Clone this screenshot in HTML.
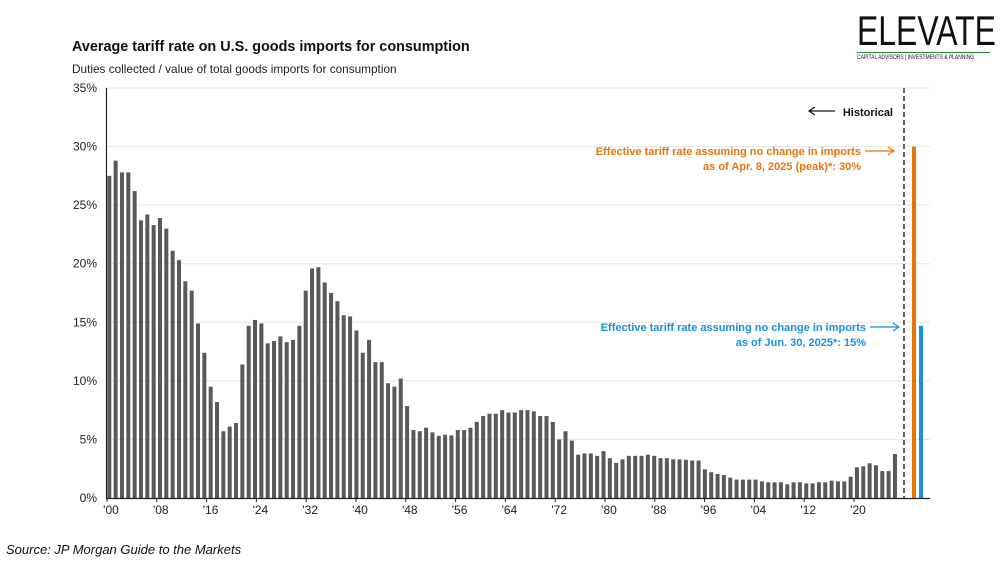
<!DOCTYPE html>
<html><head><meta charset="utf-8"><style>
body{margin:0;width:1000px;height:561px;background:#fff;font-family:"Liberation Sans",sans-serif;overflow:hidden;position:relative}
.t{position:absolute;white-space:nowrap}
</style></head><body>
<div class="t" style="left:72px;top:39px;font-size:14.4px;font-weight:bold;color:#111">Average tariff rate on U.S. goods imports for consumption</div>
<div class="t" style="left:72px;top:62px;font-size:11.8px;color:#222">Duties collected / value of total goods imports for consumption</div>
<div style="position:absolute;left:857px;top:10px;width:135px">
<div style="font-size:42px;color:#111;line-height:42px;white-space:nowrap;transform:scaleX(0.76);transform-origin:left top">ELEVATE</div>
<div style="font-size:6.5px;color:#111;border-top:1px solid #2a8a3a;padding-top:1px;white-space:nowrap;width:175px;transform:scaleX(0.76);transform-origin:left top">CAPITAL ADVISORS | INVESTMENTS &amp; PLANNING</div>
</div>
<div class="t" style="left:6px;top:542px;font-size:13px;font-style:italic;color:#111">Source: JP Morgan Guide to the Markets</div>
<svg id="c" width="1000" height="561" style="position:absolute;left:0;top:0"></svg>
<script>
const years=[];for(let y=1900;y<=2024;y++)years.push(y);
const rates=[27.5,28.8,27.8,27.8,26.2,23.7,24.2,23.3,23.9,23.0,21.1,20.3,18.5,17.7,14.9,12.4,9.5,8.2,5.7,6.1,6.4,11.4,14.7,15.2,14.9,13.2,13.4,13.8,13.3,13.5,14.7,17.7,19.6,19.7,18.4,17.5,16.8,15.6,15.5,14.3,12.4,13.5,11.6,11.6,9.8,9.5,10.2,7.85,5.8,5.7,6.0,5.6,5.3,5.4,5.35,5.8,5.8,6.0,6.5,7.0,7.2,7.2,7.5,7.3,7.3,7.5,7.5,7.4,7.0,7.0,6.5,5.0,5.7,4.9,3.7,3.8,3.8,3.6,4.0,3.4,3.0,3.3,3.6,3.6,3.6,3.7,3.6,3.4,3.4,3.3,3.3,3.27,3.2,3.2,2.45,2.2,2.05,1.96,1.74,1.57,1.57,1.57,1.57,1.42,1.34,1.34,1.34,1.17,1.34,1.34,1.25,1.25,1.34,1.34,1.48,1.42,1.42,1.82,2.62,2.7,2.96,2.8,2.3,2.3,3.76];
const scenarioLabels=["peak","jun30"];
const scenarioValues=[30,14.7];
const scenarioColors=["#e8740c","#1a8fe6"];
const yTicks=[0,5,10,15,20,25,30,35];
const xTickYears=[1900,1908,1916,1924,1932,1940,1948,1956,1964,1972,1980,1988,1996,2004,2012,2020];
const svg=document.getElementById('c');const NS='http://www.w3.org/2000/svg';
const y0=498,y1=88,x0=109.3,pitch=6.336;
const Y=v=>y0-(v/35)*(y0-y1);
const X=yr=>x0+(yr-1900)*pitch;
function mk(t,a){const e=document.createElementNS(NS,t);for(const k in a)e.setAttribute(k,a[k]);svg.appendChild(e);return e;}
yTicks.forEach(v=>{
 if(v>0){const g=mk('line',{x1:106,x2:930,y1:Y(v),y2:Y(v),stroke:'#e6e6e6','stroke-width':1});
 
 }
 const t=mk('text',{x:97,y:Y(v)+4,'text-anchor':'end','font-size':12,fill:'#222','font-family':'Liberation Sans, sans-serif'});t.textContent=v+'%';
 
 
});
years.forEach((yr,i)=>{
 const r=mk('rect',{x:X(yr)-2,y:Y(rates[i]),width:4,height:y0-Y(rates[i]),fill:'#58595b'});
 
 
});
scenarioValues.forEach((v,i)=>{
 const xs=914+i*7;
 const r=mk('rect',{x:xs-2,y:Y(v),width:4,height:y0-Y(v),fill:scenarioColors[i]});
 
 
});
let a=mk('line',{x1:106.5,x2:106.5,y1:88,y2:498,stroke:'#222','stroke-width':1.2});


a=mk('line',{x1:106,x2:930,y1:498.5,y2:498.5,stroke:'#222','stroke-width':1.2});


xTickYears.forEach(yr=>{
 const x=107+(yr-1900)*6.225;
 const l=mk('line',{x1:x,x2:x,y1:498,y2:502,stroke:'#222'});
 
 
 const t=mk('text',{x:x+4,y:514,'text-anchor':'middle','font-size':12,fill:'#222','font-family':'Liberation Sans, sans-serif'});
 t.textContent="'"+String(yr%100).padStart(2,'0');
 
 
});
a=mk('line',{x1:904,x2:904,y1:88,y2:498,stroke:'#111','stroke-width':1.3,'stroke-dasharray':'5,3'});


function txt(x,y,s,c,name,anchor){const t=mk('text',{x:x,y:y,'text-anchor':anchor||'end','font-size':11,'font-weight':'bold',fill:c,'font-family':'Liberation Sans, sans-serif'});t.textContent=s;
 
 }
txt(893,116,'Historical','#111','historical-label');
a=mk('path',{d:'M835,111 H810 M815,107 L809,111 L815,115',stroke:'#111',fill:'none','stroke-width':1.2});


txt(861,155,'Effective tariff rate assuming no change in imports','#e8740c','peak-annotation-line1');
txt(861,170,'as of Apr. 8, 2025 (peak)*: 30%','#e8740c','peak-annotation-line2');
a=mk('path',{d:'M865,151 H893 M888,147 L894,151 L888,155',stroke:'#e8740c',fill:'none','stroke-width':1.2});


txt(866,331,'Effective tariff rate assuming no change in imports','#1a8fe6','jun-annotation-line1');
txt(866,346,'as of Jun. 30, 2025*: 15%','#1a8fe6','jun-annotation-line2');
a=mk('path',{d:'M870,327 H898 M893,323 L899,327 L893,331',stroke:'#1a8fe6',fill:'none','stroke-width':1.2});


</script>
</body></html>
